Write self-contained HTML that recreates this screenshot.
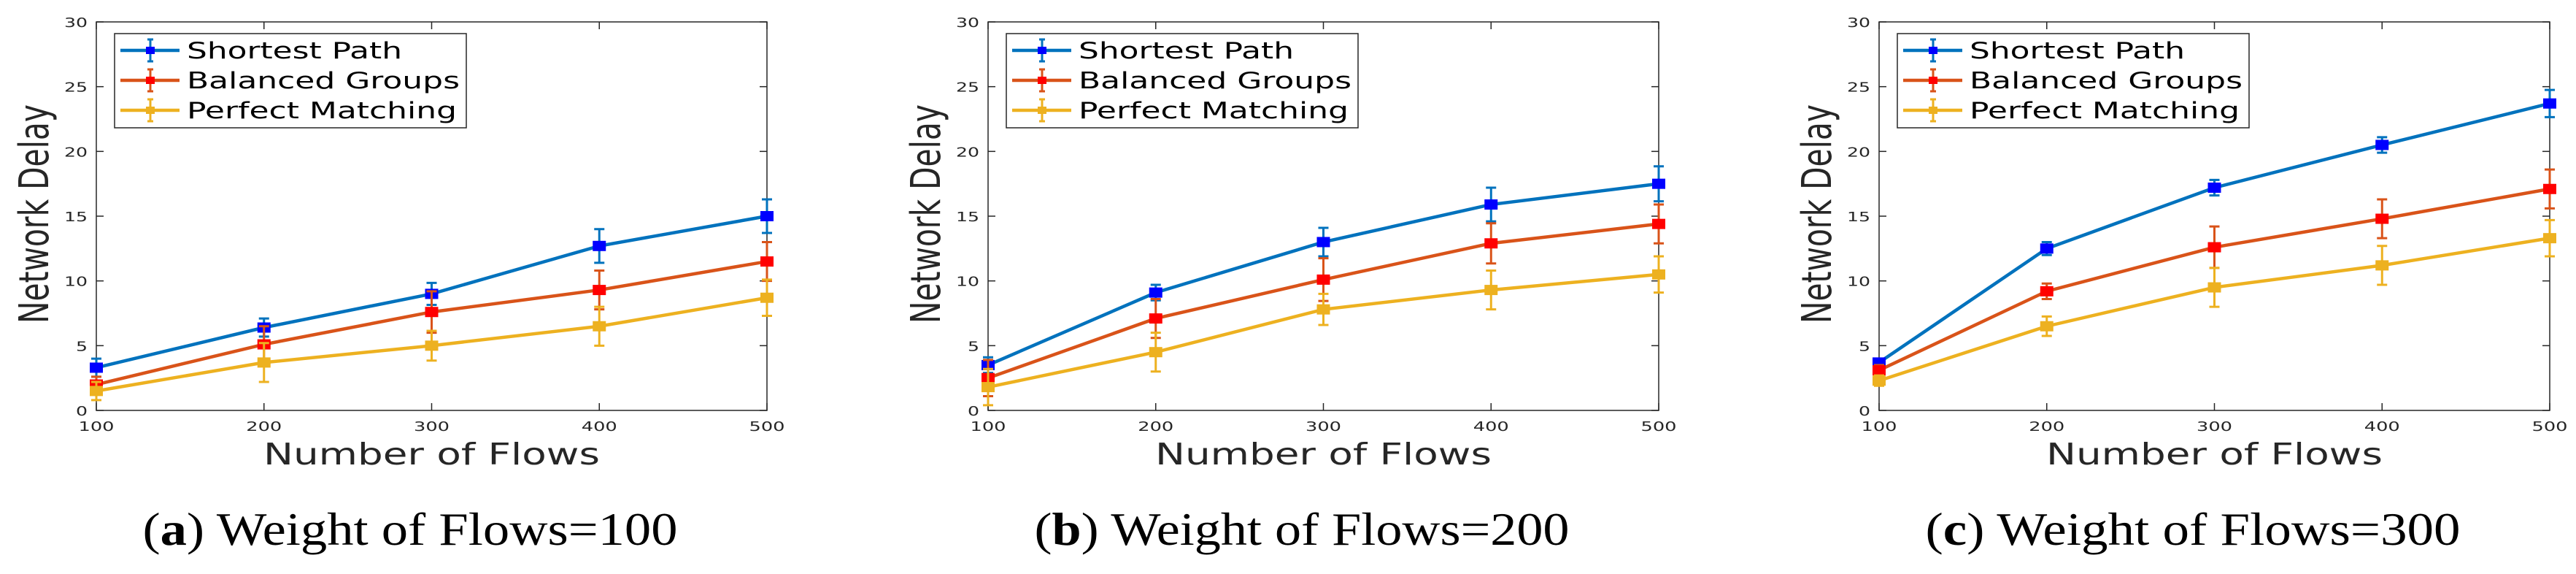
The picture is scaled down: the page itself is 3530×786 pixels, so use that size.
<!DOCTYPE html>
<html><head><meta charset="utf-8"><style>
html,body{margin:0;padding:0;background:#fff;}
svg{display:block;}
</style></head><body>
<svg id="fig" width="3530" height="786" viewBox="0 0 3530 786" xmlns="http://www.w3.org/2000/svg"></svg>
<script>
const categories = [100, 200, 300, 400, 500];
const yTicks = [0, 5, 10, 15, 20, 25, 30];
const seriesNames = ["Shortest Path", "Balanced Groups", "Perfect Matching"];
const captionLetters = ["a", "b", "c"];
const captionTexts = ["Weight of Flows=100", "Weight of Flows=200", "Weight of Flows=300"];
// panel a
const aShortest = [3.3, 6.4, 9.0, 12.7, 15.0];
const aShortestErr = [0.7, 0.7, 0.85, 1.3, 1.3];
const aBalanced = [2.0, 5.1, 7.6, 9.3, 11.5];
const aBalancedErr = [0.6, 1.4, 1.6, 1.5, 1.5];
const aPerfect = [1.5, 3.7, 5.0, 6.5, 8.7];
const aPerfectErr = [0.7, 1.5, 1.15, 1.5, 1.4];
// panel b
const bShortest = [3.5, 9.1, 13.0, 15.9, 17.5];
const bShortestErr = [0.6, 0.6, 1.1, 1.3, 1.35];
const bBalanced = [2.5, 7.1, 10.1, 12.9, 14.4];
const bBalancedErr = [1.4, 1.5, 1.65, 1.55, 1.5];
const bPerfect = [1.8, 4.5, 7.8, 9.3, 10.5];
const bPerfectErr = [1.4, 1.5, 1.2, 1.5, 1.4];
// panel c
const cShortest = [3.7, 12.5, 17.2, 20.5, 23.7];
const cShortestErr = [0.3, 0.5, 0.6, 0.6, 1.05];
const cBalanced = [3.1, 9.2, 12.6, 14.8, 17.1];
const cBalancedErr = [0.4, 0.6, 1.6, 1.5, 1.5];
const cPerfect = [2.3, 6.5, 9.5, 11.2, 13.3];
const cPerfectErr = [0.4, 0.75, 1.5, 1.5, 1.4];

const panels = [
  {left:132, vals:[aShortest,aBalanced,aPerfect], errs:[aShortestErr,aBalancedErr,aPerfectErr]},
  {left:1354, vals:[bShortest,bBalanced,bPerfect], errs:[bShortestErr,bBalancedErr,bPerfectErr]},
  {left:2575, vals:[cShortest,cBalanced,cPerfect], errs:[cShortestErr,cBalancedErr,cPerfectErr]}
];
const lineColors = ["#0072BD", "#D95319", "#EDB120"];
const markColors = ["#0000FF", "#FF0000", "#EDB120"];
const W = 919, TOP = 30, BOT = 562;
const NS = "http://www.w3.org/2000/svg";
const svg = document.getElementById("fig");
function mk(tag, attrs, parent, txt){
  const e = document.createElementNS(NS, tag);
  for (const k in attrs) e.setAttribute(k, attrs[k]);
  if (txt !== undefined) e.textContent = txt;
  parent.appendChild(e);
  return e;
}
panels.forEach((p, pi) => {
  const L = p.left, R = L + W;
  const xs = v => L + (v - 100) / 400 * W;
  const ys = v => BOT - v / 30 * (BOT - TOP);
  const g = mk("g", {}, svg);
  
  
  const ax = mk("g", {stroke:"#262626", "stroke-width":1.5, fill:"none"}, g);
  
  
  mk("rect", {x:L, y:TOP, width:W, height:BOT-TOP, fill:"#fff"}, ax);
  const tg = mk("g", {"font-family":"'DejaVu Sans','Liberation Sans',sans-serif", "font-size":18, fill:"#262626"}, g);
  
  
  categories.forEach(c => {
    const x = xs(c);
    mk("line", {x1:x, x2:x, y1:BOT, y2:BOT-10}, ax);
    mk("line", {x1:x, x2:x, y1:TOP, y2:TOP+10}, ax);
    const t = mk("text", {x:x, y:590, "text-anchor":"middle", textLength:49, lengthAdjust:"spacingAndGlyphs"}, tg, String(c));
    
    
  });
  yTicks.forEach(v => {
    const y = ys(v);
    mk("line", {x1:L, x2:L+10, y1:y, y2:y}, ax);
    mk("line", {x1:R, x2:R-10, y1:y, y2:y}, ax);
    const s = String(v);
    const t = mk("text", {x:L-12, y:y+7, "text-anchor":"end", textLength:(s.length > 1 ? 32 : 16), lengthAdjust:"spacingAndGlyphs"}, tg, s);
    
    
  });
  const xt = mk("text", {x:L+W/2, y:636, "text-anchor":"middle", "font-family":"'DejaVu Sans','Liberation Sans',sans-serif", "font-size":41, fill:"#262626", textLength:461, lengthAdjust:"spacingAndGlyphs"}, g, "Number of Flows");
  
  
  const yt = mk("text", {x:0, y:0, "text-anchor":"middle", "font-family":"'DejaVu Sans','Liberation Sans',sans-serif", "font-size":56, fill:"#262626", textLength:300, lengthAdjust:"spacingAndGlyphs", transform:"translate("+(L-66)+",293) rotate(-90)"}, g, "Network Delay");
  
  
  // series
  p.vals.forEach((vals, si) => {
    const sg = mk("g", {}, g);
    
    
    const pts = vals.map((v,i) => xs(categories[i]) + "," + ys(v)).join(" ");
    mk("polyline", {points:pts, fill:"none", stroke:lineColors[si], "stroke-width":4.5}, sg);
    vals.forEach((v, i) => {
      const x = xs(categories[i]), e = p.errs[si][i];
      const y1 = ys(v - e), y2 = ys(v + e);
      const eb = mk("path", {d:"M"+x+","+y1+"V"+y2+"M"+(x-7)+","+y1+"H"+(x+7)+"M"+(x-7)+","+y2+"H"+(x+7), stroke:lineColors[si], "stroke-width":3, fill:"none"}, sg);
      
      
      const m = mk("rect", {x:x-9, y:ys(v)-7, width:18, height:14, fill:markColors[si]}, sg);
      
      
    });
  });
  // legend
  const lg = mk("g", {}, g);
  
  
  mk("rect", {x:L+25, y:46, width:482, height:129, fill:"#fff", stroke:"#262626", "stroke-width":1.5}, lg);
  const lens = [295, 374, 370];
  seriesNames.forEach((n, si) => {
    const cy = 69 + si * 41;
    const le = mk("g", {}, lg);
    
    
    mk("line", {x1:L+33, x2:L+114, y1:cy, y2:cy, stroke:lineColors[si], "stroke-width":4.5}, le);
    mk("path", {d:"M"+(L+74)+","+(cy-15)+"V"+(cy+15)+"M"+(L+70)+","+(cy-15)+"H"+(L+78)+"M"+(L+70)+","+(cy+15)+"H"+(L+78), stroke:lineColors[si], "stroke-width":3}, le);
    mk("rect", {x:L+68, y:cy-5, width:12, height:10, fill:markColors[si]}, le);
    mk("text", {x:L+124, y:cy+11, "font-family":"'DejaVu Sans','Liberation Sans',sans-serif", "font-size":31, fill:"#000", textLength:lens[si], lengthAdjust:"spacingAndGlyphs"}, le, n);
  });
  // caption
  const cap = mk("text", {x:L+430, y:746, "text-anchor":"middle", "font-family":"'Liberation Serif',serif", "font-size":64, fill:"#000", textLength:733, lengthAdjust:"spacingAndGlyphs"}, g);
  
  
  mk("tspan", {}, cap, "(");
  mk("tspan", {"font-weight":"bold"}, cap, captionLetters[pi]);
  mk("tspan", {}, cap, ") " + captionTexts[pi]);
});
</script>
</body></html>
